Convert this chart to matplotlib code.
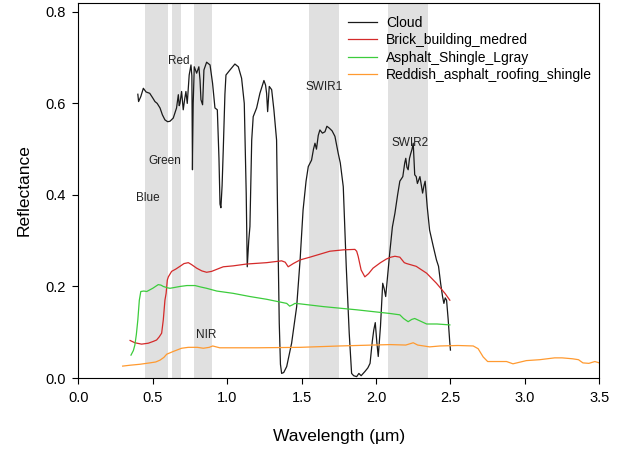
import matplotlib
matplotlib.use("Agg")
import matplotlib.pyplot as plt

plt.rcParams['font.family'] = ['Liberation Sans', 'DejaVu Sans']

# spectral bands (µm) and their labels
band_ranges = [(0.45, 0.60), (0.63, 0.69), (0.78, 0.90), (1.55, 1.75), (2.08, 2.35)]
band_names = ["Blue", "Green", "Red", "NIR", "SWIR1", "SWIR2"]
band_label_x = [0.468, 0.58, 0.676, 0.858, 1.65, 2.226]
band_label_y = [0.393, 0.475, 0.693, 0.095, 0.635, 0.514]

# Cloud
cloud_x = [0.400, 0.405, 0.420, 0.437, 0.455, 0.480, 0.500, 0.515, 0.530, 0.549,
           0.565, 0.582, 0.600, 0.616, 0.638, 0.660, 0.672, 0.678, 0.683, 0.694,
           0.705, 0.715, 0.723, 0.732, 0.745, 0.757, 0.763, 0.767, 0.772, 0.779,
           0.795, 0.810, 0.818, 0.824, 0.835, 0.844, 0.862, 0.885, 0.902, 0.918,
           0.934, 0.945, 0.952, 0.958, 0.966, 0.974, 0.985, 0.992, 1.019, 1.052,
           1.075, 1.097, 1.108, 1.115, 1.122, 1.128, 1.135, 1.145, 1.153, 1.165,
           1.175, 1.198, 1.220, 1.247, 1.258, 1.265, 1.272, 1.283, 1.299, 1.314,
           1.332, 1.340, 1.350, 1.358, 1.366, 1.380, 1.400, 1.433, 1.467, 1.490,
           1.510, 1.530, 1.545, 1.567, 1.580, 1.590, 1.600, 1.612, 1.623, 1.640,
           1.657, 1.670, 1.686, 1.705, 1.724, 1.746, 1.760, 1.780, 1.800, 1.820,
           1.836, 1.850, 1.870, 1.885, 1.900, 1.925, 1.945, 1.960, 1.975, 1.985,
           1.995, 2.005, 2.015, 2.030, 2.045, 2.055, 2.065, 2.080, 2.093, 2.110,
           2.127, 2.145, 2.160, 2.180, 2.193, 2.200, 2.208, 2.216, 2.225, 2.233,
           2.242, 2.250, 2.260, 2.270, 2.278, 2.295, 2.305, 2.313, 2.322, 2.330,
           2.344, 2.360, 2.385, 2.406, 2.420, 2.434, 2.447, 2.456, 2.465, 2.474,
           2.485, 2.495, 2.500]
cloud_y = [0.620, 0.604, 0.615, 0.633, 0.625, 0.622, 0.612, 0.604, 0.600, 0.590,
           0.575, 0.564, 0.560, 0.561, 0.568, 0.590, 0.619, 0.595, 0.600, 0.626,
           0.586, 0.610, 0.626, 0.600, 0.662, 0.684, 0.660, 0.455, 0.600, 0.680,
           0.666, 0.680, 0.650, 0.608, 0.597, 0.673, 0.690, 0.684, 0.644, 0.590,
           0.586, 0.480, 0.380, 0.372, 0.420, 0.500, 0.620, 0.662, 0.673, 0.686,
           0.680, 0.655, 0.622, 0.600, 0.500, 0.404, 0.243, 0.300, 0.331, 0.520,
           0.571, 0.590, 0.622, 0.650, 0.640, 0.622, 0.582, 0.637, 0.630, 0.586,
           0.520, 0.330, 0.120, 0.030, 0.010, 0.012, 0.025, 0.076, 0.156, 0.258,
           0.367, 0.430, 0.462, 0.476, 0.500, 0.513, 0.500, 0.530, 0.542, 0.535,
           0.538, 0.550, 0.546, 0.540, 0.528, 0.491, 0.470, 0.418, 0.244, 0.098,
           0.010, 0.005, 0.003, 0.010, 0.005, 0.014, 0.022, 0.032, 0.080, 0.105,
           0.121, 0.080, 0.047, 0.113, 0.207, 0.195, 0.178, 0.230, 0.276, 0.330,
           0.360, 0.400, 0.430, 0.440, 0.470, 0.480, 0.460, 0.455, 0.480, 0.490,
           0.500, 0.513, 0.444, 0.440, 0.425, 0.440, 0.420, 0.404, 0.420, 0.430,
           0.374, 0.323, 0.287, 0.258, 0.244, 0.207, 0.178, 0.163, 0.175, 0.170,
           0.127, 0.080, 0.061]

# Brick_building_medred
brick_x = [0.348, 0.38, 0.425, 0.47, 0.504, 0.526, 0.544, 0.56, 0.571, 0.582,
           0.59, 0.598, 0.605, 0.627, 0.655, 0.683, 0.71, 0.739, 0.76, 0.795,
           0.83, 0.862, 0.896, 0.95, 0.974, 1.04, 1.13, 1.265, 1.366, 1.39,
           1.41, 1.444, 1.49, 1.556, 1.69, 1.78, 1.858, 1.87, 1.88, 1.90,
           1.925, 1.95, 1.98, 2.03, 2.07, 2.10, 2.127, 2.16, 2.19, 2.206,
           2.27, 2.34, 2.406, 2.463, 2.496]
brick_y = [0.082, 0.077, 0.074, 0.076, 0.080, 0.083, 0.090, 0.098, 0.127, 0.170,
           0.185, 0.214, 0.221, 0.233, 0.238, 0.244, 0.250, 0.252, 0.248, 0.240,
           0.234, 0.231, 0.233, 0.240, 0.243, 0.245, 0.249, 0.252, 0.256, 0.253,
           0.243, 0.250, 0.258, 0.264, 0.277, 0.280, 0.281, 0.277, 0.266, 0.236,
           0.221, 0.228, 0.240, 0.252, 0.260, 0.264, 0.266, 0.264, 0.252, 0.250,
           0.244, 0.229, 0.207, 0.185, 0.170]

# Asphalt_Shingle_Lgray
asphalt_x = [0.354, 0.37, 0.38, 0.39, 0.40, 0.41, 0.42, 0.44, 0.46, 0.50,
             0.537, 0.555, 0.571, 0.60, 0.616, 0.65, 0.683, 0.73, 0.784, 0.82,
             0.862, 0.93, 1.04, 1.153, 1.265, 1.40, 1.42, 1.44, 1.455, 1.49,
             1.646, 1.87, 2.093, 2.16, 2.185, 2.216, 2.24, 2.26, 2.30, 2.34,
             2.41, 2.496]
asphalt_y = [0.050, 0.060, 0.072, 0.095, 0.127, 0.170, 0.189, 0.190, 0.189, 0.196,
             0.204, 0.203, 0.200, 0.197, 0.196, 0.198, 0.200, 0.202, 0.202, 0.199,
             0.196, 0.190, 0.185, 0.178, 0.172, 0.163, 0.157, 0.160, 0.163, 0.162,
             0.156, 0.149, 0.141, 0.138, 0.130, 0.123, 0.128, 0.130, 0.124, 0.118,
             0.118, 0.116]

# Reddish_asphalt_roofing_shingle
roof_x = [0.298, 0.35, 0.414, 0.48, 0.52, 0.549, 0.575, 0.594, 0.638, 0.694,
          0.739, 0.80, 0.84, 0.88, 0.903, 0.95, 1.2, 1.49, 1.757, 1.98,
          2.093, 2.2, 2.25, 2.28, 2.36, 2.43, 2.55, 2.653, 2.686, 2.72,
          2.75, 2.80, 2.877, 2.92, 3.01, 3.10, 3.20, 3.25, 3.32, 3.36,
          3.39, 3.43, 3.47, 3.5]
roof_y = [0.026, 0.028, 0.030, 0.033, 0.035, 0.039, 0.045, 0.052, 0.058, 0.065,
          0.067, 0.067, 0.065, 0.067, 0.070, 0.066, 0.066, 0.067, 0.070, 0.072,
          0.073, 0.072, 0.077, 0.072, 0.068, 0.070, 0.071, 0.070, 0.064, 0.046,
          0.036, 0.036, 0.036, 0.031, 0.038, 0.040, 0.044, 0.044, 0.042, 0.040,
          0.033, 0.032, 0.036, 0.033]

fig = plt.figure(figsize=(6.36, 4.5), dpi=100)
ax = fig.add_axes([0.1231, 0.16, 0.8192, 0.834])

for lo, hi in band_ranges:
    ax.axvspan(lo, hi, color='#e0e0e0', lw=0, zorder=0)

ax.plot(cloud_x, cloud_y, color='#1a1a1a', lw=0.9, label='Cloud')
ax.plot(brick_x, brick_y, color='#d42a2a', lw=0.9, label='Brick_building_medred')
ax.plot(asphalt_x, asphalt_y, color='#3ccc3c', lw=0.9, label='Asphalt_Shingle_Lgray')
ax.plot(roof_x, roof_y, color='#ff9a30', lw=0.9, label='Reddish_asphalt_roofing_shingle')

for name, tx, ty in zip(band_names, band_label_x, band_label_y):
    ax.text(tx, ty, name, fontsize=8.5, ha='center', va='center', color='#222222')

ax.set_xlim(0, 3.5)
ax.set_ylim(0, 0.82)
ax.set_xticks([0.0, 0.5, 1.0, 1.5, 2.0, 2.5, 3.0, 3.5])
ax.set_yticks([0.0, 0.2, 0.4, 0.6, 0.8])
ax.set_xticklabels(['0.0', '0.5', '1.0', '1.5', '2.0', '2.5', '3.0', '3.5'])
ax.set_yticklabels(['0.0', '0.2', '0.4', '0.6', '0.8'])
ax.tick_params(direction='out', length=4, width=0.8, labelsize=10.5, pad=5)
ax.set_xlabel('Wavelength (µm)', fontsize=12.5, labelpad=18)
ax.set_ylabel('Reflectance', fontsize=12.5, labelpad=10)

ax.legend(loc='upper left', bbox_to_anchor=(0.507, 0.98), frameon=False,
          fontsize=10, handlelength=2.1, handletextpad=0.65, labelspacing=0.25,
          borderaxespad=0)

fig.savefig('out.png', dpi=100)
